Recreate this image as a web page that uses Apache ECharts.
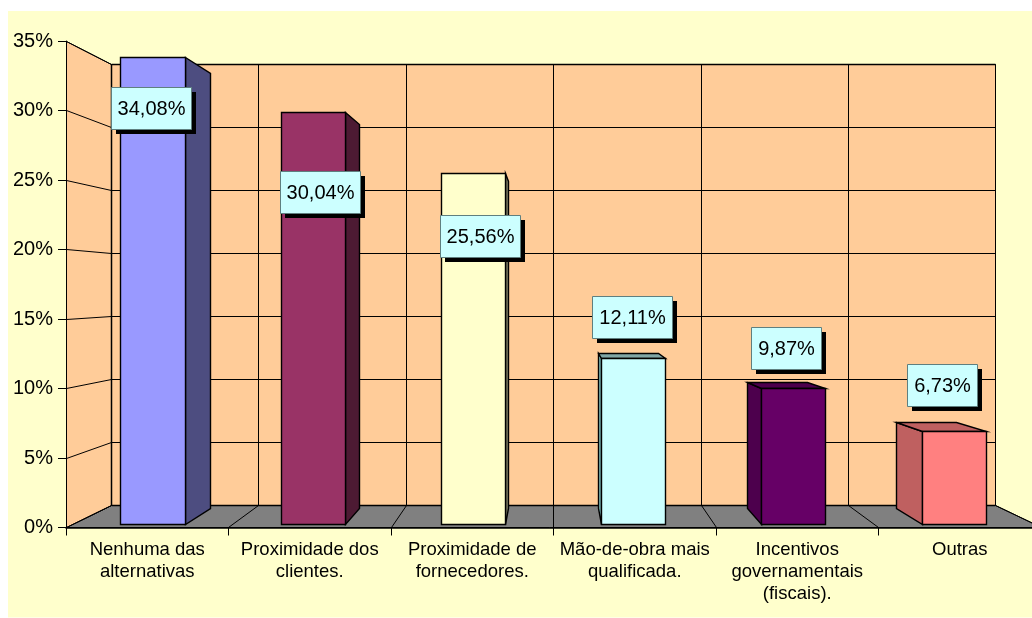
<!DOCTYPE html>
<html>
<head>
<meta charset="utf-8">
<style>
  html, body { margin: 0; padding: 0; background: #fff; overflow: hidden; }
  #chart { width: 1032px; height: 618px; }
</style>
<script src="https://cdn.jsdelivr.net/npm/echarts@6/dist/echarts.min.js"></script>
</head>
<body>
<div id="chart"></div>
<script>
// data
const categories = [
  'Nenhuma das\nalternativas',
  'Proximidade dos\nclientes.',
  'Proximidade de\nfornecedores.',
  'Mão-de-obra mais\nqualificada.',
  'Incentivos\ngovernamentais\n(fiscais).',
  'Outras'
]
const values = [34.08, 30.04, 25.56, 12.11, 9.87, 6.73]
const yTicks = [0, 5, 10, 15, 20, 25, 30, 35]

// bar colours: front, right/left side, top
const frontColors = ['#9999FF', '#993366', '#FFFFCC', '#CCFFFF', '#660066', '#FF8080']
const sideColors = ['#4D4D80', '#4D1A33', '#808066', '#80BFBF', '#4D004D', '#BF6060']
const topColors = ['#7373BF', '#73264D', '#BFBF99', '#80A6A6', '#4D004D', '#BF6060']
// label box position, relative to the top centre of the bar front
const labelOffsets = [[-1.7, 51], [7, 80], [6.5, 62.5], [-1.5, -41.5], [-7.5, -40.5], [-12.5, -46.5]]

const font = 'Liberation Sans'
const WALL = '#FFCC99'
const FLOOR = '#808080'

// fake 3D: front plane points are pulled to a vanishing point
const VP = [555, 290]
const S_BACK = 0.907
const S_BAR_FRONT = 0.986
const S_BAR_BACK = 0.918

const proj = (p, s) => [VP[0] + (p[0] - VP[0]) * s, VP[1] + (p[1] - VP[1]) * s]
const crisp = p => [Math.round(p[0] - 0.5) + 0.5, Math.round(p[1] - 0.5) + 0.5]

const poly = (pts, fill, stroke, width, z2) => ({
  type: 'polygon',
  z2: z2 || 0,
  shape: { points: pts.map(crisp) },
  style: { fill: fill, stroke: stroke || null, lineWidth: width || 1 }
})
const line = (a, b, width) => {
  const p = crisp(a), q = crisp(b)
  return {
    type: 'line',
    shape: { x1: p[0], y1: p[1], x2: q[0], y2: q[1] },
    style: { stroke: '#000', lineWidth: width || 1 }
  }
}

const renderWalls = (params, api) => {
  const band = api.size([1, 0])[0]
  const left = api.coord([0, 0])[0] - band / 2
  const right = left + band * categories.length
  const y0 = api.coord([0, 0])[1]
  const yTop = api.coord([0, yTicks[yTicks.length - 1]])[1]
  const back = p => proj(p, S_BACK)
  const children = []
  // floor
  children.push(poly([[left, y0], [right, y0], back([right, y0]), back([left, y0])], FLOOR, '#000'))
  // back wall and left wall
  children.push(poly([back([left, yTop]), back([right, yTop]), back([right, y0]), back([left, y0])], WALL, '#000'))
  children.push(poly([[left, yTop], back([left, yTop]), back([left, y0]), [left, y0]], WALL, '#000'))
  yTicks.forEach(t => {
    const y = api.coord([0, t])[1]
    children.push(line([left, y], back([left, y])))
    children.push(line(back([left, y]), back([right, y]), t === 0 || t === 35 ? 1.5 : 1))
  })
  children.push(line(back([left, yTop]), back([left, y0]), 1.5))
  categories.forEach((c, i) => {
    const x = left + band * (i + 1)
    children.push(line(back([x, yTop]), back([x, y0])))
    children.push(line([x, y0], back([x, y0])))
  })
  return { type: 'group', children: children }
}

const renderBar = (params, api) => {
  const i = api.value(0)
  const top = api.coord([i, api.value(1)])
  const base = api.coord([i, 0])
  const half = api.size([1, 0])[0] * 0.2
  const a = [top[0] - half, top[1]]
  const b = [top[0] + half, top[1]]
  const c = [top[0] + half, base[1]]
  const d = [top[0] - half, base[1]]
  const f = p => proj(p, S_BAR_FRONT)
  const k = p => proj(p, S_BAR_BACK)
  const children = []
  // only the faces turned to the viewer
  if (k(b)[0] > f(b)[0]) children.push(poly([f(b), k(b), k(c), f(c)], sideColors[i], '#000', 1.4))
  if (k(a)[0] < f(a)[0]) children.push(poly([f(a), k(a), k(d), f(d)], sideColors[i], '#000', 1.4))
  if (k(a)[1] < f(a)[1]) children.push(poly([f(a), k(a), k(b), f(b)], topColors[i], '#000', 1.4))
  children.push(poly([f(a), f(b), f(c), f(d)], frontColors[i], '#000', 1.4, 1))
  return { type: 'group', children: children }
}

const renderLabel = (params, api) => {
  const i = api.value(0)
  const p = proj(api.coord([i, api.value(1)]), S_BAR_FRONT)
  const cx = Math.round(p[0] + labelOffsets[i][0])
  const cy = Math.round(p[1] + labelOffsets[i][1])
  const text = values[i].toFixed(2).replace('.', ',') + '%'
  // box follows the text length
  const w = text.length > 5 ? 80 : 70
  const h = 42
  return {
    type: 'group',
    children: [
      { type: 'rect', shape: { x: cx - w / 2 + 5, y: cy - h / 2 + 5, width: w, height: h }, style: { fill: '#000' } },
      { type: 'rect', shape: { x: cx - w / 2 + 0.5, y: cy - h / 2 + 0.5, width: w, height: h }, style: { fill: '#CCFFFF', stroke: '#5F7F7F', lineWidth: 1 } },
      {
        type: 'text',
        z2: 2,
        style: {
          x: cx + 0.5,
          y: cy + 1,
          text: text,
          align: 'center',
          verticalAlign: 'middle',
          fontFamily: font,
          fontSize: 20,
          fill: '#000'
        }
      }
    ]
  }
}

const seriesData = values.map((v, i) => [i, v])

const chart = echarts.init(document.getElementById('chart'), null, { renderer: 'canvas' })
chart.setOption({
  animation: false,
  graphic: [{
    type: 'rect',
    z: -10,
    shape: { x: 8, y: 11, width: 1024, height: 606.5 },
    style: { fill: '#FFFFCC' }
  }],
  // the plot runs past the right edge of the window, like the original
  grid: { left: 66, top: 41, width: 975, height: 486.5, outerBoundsMode: 'none' },
  xAxis: {
    type: 'category',
    data: categories,
    z: 5,
    axisLine: { lineStyle: { color: '#000', width: 1.5 } },
    axisTick: { show: true, alignWithLabel: false, length: 8, lineStyle: { color: '#000' } },
    axisLabel: {
      interval: 0,
      margin: 11,
      color: '#000',
      fontFamily: font,
      fontSize: 18.5,
      lineHeight: 22
    }
  },
  yAxis: {
    type: 'value',
    min: 0,
    max: 35,
    interval: 5,
    z: 5,
    axisLine: { show: true, lineStyle: { color: '#000', width: 1 } },
    axisTick: { show: true, length: 8, lineStyle: { color: '#000' } },
    splitLine: { show: false },
    axisLabel: {
      margin: 13,
      padding: [3, 0, 0, 0],
      color: '#000',
      fontFamily: font,
      fontSize: 20,
      formatter: v => v + '%'
    }
  },
  series: [
    { type: 'custom', z: 1, silent: true, clip: false, renderItem: renderWalls, data: [[0, 0]] },
    { type: 'custom', z: 2, silent: true, clip: false, renderItem: renderBar, data: seriesData },
    { type: 'custom', z: 6, silent: true, clip: false, renderItem: renderLabel, data: seriesData }
  ]
})
</script>
</body>
</html>
